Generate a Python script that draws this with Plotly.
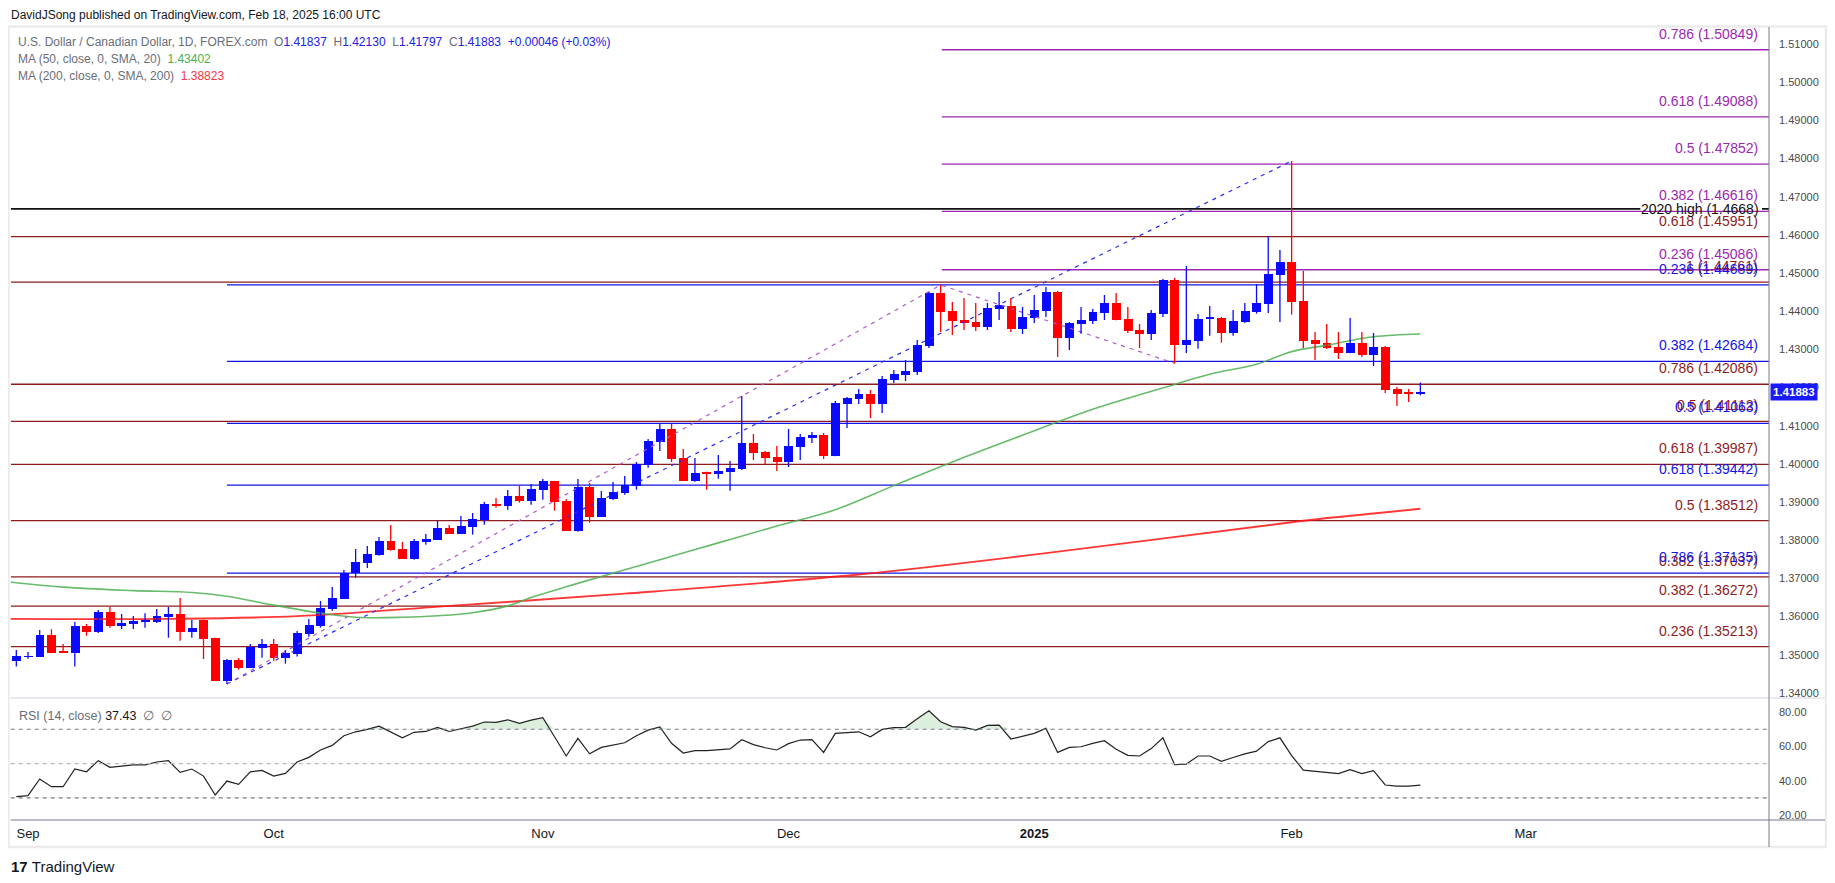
import numpy as np
import pandas as pd
import plotly.graph_objects as go

# USD/CAD daily bars (FOREX.com), 30 Aug 2024 - 18 Feb 2025
dates = pd.bdate_range("2024-08-30", "2025-02-18")
dates = dates[~dates.isin(pd.to_datetime(["2024-12-25", "2025-01-01"]))]
future = pd.bdate_range("2025-02-19", "2025-03-31")

opens = [
    1.34845, 1.34940, 1.34950, 1.35517, 1.35063, 1.35054, 1.35753, 1.35604, 1.36120, 1.35762,
    1.35814, 1.35870, 1.35866, 1.35997, 1.36067, 1.35604, 1.35919, 1.35439, 1.34321, 1.34862,
    1.34661, 1.35185, 1.35281, 1.34923, 1.35028, 1.35552, 1.35762, 1.36206, 1.36468, 1.37132,
    1.37412, 1.37621, 1.37979, 1.37769, 1.37508, 1.37962, 1.38014, 1.38320, 1.38172, 1.38355,
    1.38529, 1.38949, 1.38905, 1.39158, 1.39036, 1.39324, 1.39551, 1.39027, 1.38241, 1.39394,
    1.38617, 1.39088, 1.39245, 1.39429, 1.39979, 1.40573, 1.40913, 1.40154, 1.39560, 1.39768,
    1.39743, 1.39787, 1.39865, 1.40547, 1.40311, 1.40180, 1.40049, 1.40442, 1.40678, 1.40756,
    1.40206, 1.41568, 1.41699, 1.41830, 1.41568, 1.42197, 1.42328, 1.42407, 1.43088, 1.44476,
    1.44005, 1.43769, 1.43717, 1.43586, 1.44057, 1.44136, 1.43533, 1.43822, 1.44005, 1.44503,
    1.43298, 1.43664, 1.43743, 1.43953, 1.44215, 1.43795, 1.43507, 1.43402, 1.43926, 1.44817,
    1.43114, 1.43228, 1.43808, 1.43822, 1.43437, 1.43717, 1.43979, 1.44188, 1.44948, 1.45289,
    1.44267, 1.43245, 1.43167, 1.43062, 1.42905, 1.43167, 1.42852, 1.43062, 1.41961, 1.41850,
    1.41837,
]
highs = [
    1.35124, 1.35072, 1.35648, 1.35666, 1.35281, 1.35858, 1.35805, 1.36172, 1.36251, 1.36067,
    1.36015, 1.36085, 1.36198, 1.36251, 1.36487, 1.35910, 1.35925, 1.35445, 1.34888, 1.34915,
    1.35281, 1.35412, 1.35412, 1.35124, 1.35622, 1.35936, 1.36408, 1.36774, 1.37219, 1.37769,
    1.37848, 1.38084, 1.38399, 1.37953, 1.38032, 1.38163, 1.38503, 1.38399, 1.38634, 1.38713,
    1.39001, 1.39106, 1.39315, 1.39420, 1.39473, 1.39604, 1.39555, 1.39080, 1.39604, 1.39499,
    1.39289, 1.39525, 1.39682, 1.40049, 1.40651, 1.41053, 1.41053, 1.40389, 1.40154, 1.39796,
    1.40232, 1.40075, 1.41778, 1.40782, 1.40337, 1.40468, 1.40913, 1.40782, 1.40835, 1.40809,
    1.41647, 1.41752, 1.41961, 1.41935, 1.42302, 1.42459, 1.42721, 1.43245, 1.44503, 1.44686,
    1.44241, 1.44346, 1.44215, 1.44215, 1.44503, 1.44346, 1.44110, 1.44424, 1.44634, 1.44529,
    1.43717, 1.44110, 1.44057, 1.44424, 1.44477, 1.44110, 1.43664, 1.44031, 1.44843, 1.44870,
    1.45184, 1.43926, 1.44136, 1.43848, 1.44031, 1.44215, 1.44712, 1.45970, 1.45603, 1.47935,
    1.45053, 1.43455, 1.43664, 1.43455, 1.43822, 1.43455, 1.43429, 1.43088, 1.42014, 1.41961,
    1.42130,
]
lows = [
    1.34688, 1.34897, 1.34945, 1.35037, 1.35050, 1.34688, 1.35500, 1.35570, 1.35709, 1.35674,
    1.35674, 1.35709, 1.35832, 1.35447, 1.35369, 1.35447, 1.34888, 1.34315, 1.34233, 1.34609,
    1.34655, 1.34923, 1.34845, 1.34766, 1.34950, 1.35473, 1.35709, 1.36154, 1.36460, 1.37019,
    1.37272, 1.37595, 1.37726, 1.37510, 1.37490, 1.37883, 1.38010, 1.38165, 1.38165, 1.38145,
    1.38407, 1.38853, 1.38800, 1.38984, 1.38931, 1.39062, 1.38774, 1.38245, 1.38224, 1.38460,
    1.38610, 1.39053, 1.39193, 1.39324, 1.39900, 1.40337, 1.40049, 1.39555, 1.39534, 1.39324,
    1.39612, 1.39298, 1.39839, 1.40101, 1.39996, 1.39813, 1.39918, 1.40101, 1.40547, 1.40127,
    1.40200, 1.40940, 1.41568, 1.41202, 1.41333, 1.42119, 1.42171, 1.42328, 1.43036, 1.43455,
    1.43376, 1.43507, 1.43481, 1.43507, 1.43769, 1.43455, 1.43402, 1.43691, 1.43848, 1.42800,
    1.42983, 1.43411, 1.43664, 1.43769, 1.43765, 1.43429, 1.43036, 1.43245, 1.43848, 1.42634,
    1.42905, 1.43018, 1.43359, 1.43175, 1.43359, 1.43691, 1.43935, 1.43953, 1.43717, 1.43909,
    1.43036, 1.42721, 1.43009, 1.42747, 1.42900, 1.42800, 1.42564, 1.41857, 1.41516, 1.41621,
    1.41797,
]
closes = [
    1.34967, 1.34950, 1.35517, 1.35054, 1.35054, 1.35753, 1.35604, 1.36120, 1.35762, 1.35832,
    1.35884, 1.35880, 1.36015, 1.36067, 1.35604, 1.35701, 1.35421, 1.34321, 1.34862, 1.34661,
    1.35212, 1.35290, 1.34923, 1.35046, 1.35570, 1.35779, 1.36225, 1.36495, 1.37132, 1.37429,
    1.37639, 1.37979, 1.37752, 1.37516, 1.37979, 1.38032, 1.38320, 1.38172, 1.38372, 1.38556,
    1.38949, 1.38905, 1.39158, 1.39036, 1.39342, 1.39551, 1.39010, 1.38250, 1.39394, 1.38617,
    1.39106, 1.39263, 1.39446, 1.39996, 1.40599, 1.40913, 1.40127, 1.39560, 1.39761, 1.39755,
    1.39813, 1.39892, 1.40547, 1.40293, 1.40154, 1.40049, 1.40468, 1.40704, 1.40756, 1.40206,
    1.41595, 1.41726, 1.41830, 1.41568, 1.42223, 1.42354, 1.42433, 1.43114, 1.44476, 1.43979,
    1.43743, 1.43691, 1.43586, 1.44084, 1.44162, 1.43533, 1.43848, 1.44031, 1.44503, 1.43298,
    1.43691, 1.43769, 1.43979, 1.44215, 1.43769, 1.43481, 1.43402, 1.43953, 1.44817, 1.43114,
    1.43245, 1.43795, 1.43818, 1.43437, 1.43743, 1.44005, 1.44215, 1.44974, 1.45289, 1.44241,
    1.43219, 1.43140, 1.43036, 1.42905, 1.43167, 1.42852, 1.43062, 1.41935, 1.41839, 1.41837,
    1.41883,
]

# RSI(14) per bar
rsi = [
    30.7, 31.3, 41.0, 36.5, 36.5, 46.8, 45.2, 51.7, 47.8, 48.6,
    49.2, 49.2, 50.9, 51.7, 44.9, 46.8, 42.7, 31.7, 39.8, 37.9,
    45.2, 46.0, 42.7, 44.3, 50.9, 53.6, 57.9, 60.6, 66.2, 68.5,
    69.9, 71.8, 68.5, 65.0, 68.2, 68.7, 71.1, 68.7, 70.3, 71.8,
    74.2, 74.0, 75.5, 73.4, 75.3, 76.7, 65.6, 54.4, 64.7, 55.7,
    59.4, 60.6, 62.1, 66.2, 69.5, 71.3, 61.8, 56.1, 57.5, 57.5,
    57.9, 58.5, 63.9, 61.0, 59.2, 57.9, 61.6, 63.7, 63.9, 56.5,
    67.6, 68.2, 68.5, 65.6, 69.9, 70.9, 71.1, 76.1, 80.8, 74.4,
    71.5, 71.1, 69.5, 72.2, 72.4, 64.3, 66.0, 67.6, 70.5, 56.5,
    59.4, 59.8, 61.8, 63.3, 58.3, 54.8, 54.4, 58.7, 65.0, 49.3,
    49.7, 54.4, 54.4, 51.3, 53.5, 55.6, 57.2, 62.8, 65.0, 54.6,
    46.2, 45.6, 45.1, 44.1, 46.4, 44.1, 45.9, 37.5, 36.8, 36.8,
    37.43,
]

# moving averages, sampled along the curves (bar index, value)
ma50_idx = [-1, 4, 10, 15, 18, 22, 26, 29, 33, 36, 39, 42, 44, 47, 50, 55, 60, 65,
            70, 75, 80, 86, 92, 99, 102, 106, 109, 112, 116, 120]
ma50_val = [1.3692, 1.3677, 1.3668, 1.3663, 1.3653, 1.3630, 1.3609, 1.3598, 1.3598,
            1.3602, 1.3610, 1.3628, 1.3650, 1.3678, 1.3705, 1.3749, 1.3793, 1.3837,
            1.3880, 1.3943, 1.4005, 1.4075, 1.4143, 1.4208, 1.4235, 1.4261, 1.4294,
            1.4311, 1.4333, 1.43402]
ma200_idx = [-1, 13, 24, 38, 52, 72, 88, 110, 116, 120]
ma200_val = [1.3594, 1.3594, 1.3601, 1.3630, 1.3660, 1.3710, 1.3766, 1.3851, 1.3870, 1.38823]

# fibonacci levels
red_levels = [1.45951, 1.44761, 1.42086, 1.41112, 1.39987, 1.38512, 1.37037, 1.36272, 1.35213]
red_ratios = ["0.618", "1", "0.786", "0.5", "0.618", "0.5", "0.382", "0.382", "0.236"]
blue_levels = [1.44689, 1.42684, 1.41063, 1.39442, 1.37135]
blue_ratios = ["0.236", "0.382", "0.5", "0.618", "0.786"]
purple_levels = [1.50849, 1.49088, 1.47852, 1.46616, 1.45086]
purple_ratios = ["0.786", "0.618", "0.5", "0.382", "0.236"]
high_2020 = 1.4668

# anchor bars of the drawings
swing_low, swing_high, dec_high, jan_low = 18, 109, 79, 99

price_ticks = [1.34, 1.35, 1.36, 1.37, 1.38, 1.39, 1.40, 1.41, 1.42, 1.43,
               1.44, 1.45, 1.46, 1.47, 1.48, 1.49, 1.50, 1.51]
rsi_ticks = [20, 40, 60, 80]

# ---- layout geometry, in pixels of the 1835x883 page ----
# the html body has an 8px margin, so the figure is placed at (8, 8)
OFF = 8
W, H = 1835 - 2 * OFF, 883 - 2 * OFF
L, R, T, MB, RB = 10.7, 1769, 27, 698, 820
X0, X1 = -0.48, 149.8


def px(v):
    return (v - OFF) / W


def py(v):
    return 1 - (v - OFF) / H


BLUE = "#0a0aff"
RED = "#ff0000"
FIB_RED = "#8e1c1c"
FIB_BLUE = "#1414e6"
PURPLE = "#9c27b0"
GREY = "#6a6d78"
FONT = "Liberation Sans"
NARROW = "Liberation Sans Narrow, Liberation Sans"

n = len(closes)
idx = list(range(n))
up = [c >= o for o, c in zip(opens, closes)]

fig = go.Figure()

# moving averages
fig.add_trace(go.Scatter(x=ma200_idx, y=ma200_val, mode="lines",
                         line=dict(color="rgba(255,20,20,0.85)", width=1.9, shape="spline"),
                         hoverinfo="skip", xaxis="x", yaxis="y"))
fig.add_trace(go.Scatter(x=ma50_idx, y=ma50_val, mode="lines",
                         line=dict(color="rgba(76,175,80,0.85)", width=1.6, shape="spline"),
                         hoverinfo="skip", xaxis="x", yaxis="y"))

# dashed drawings
fig.add_trace(go.Scatter(x=[swing_low, swing_high], y=[lows[swing_low], highs[swing_high]], mode="lines",
                         line=dict(color="#2a2aff", width=1.2, dash="4px,5px"), hoverinfo="skip"))
fig.add_trace(go.Scatter(x=[swing_low, dec_high, jan_low],
                         y=[lows[swing_low], highs[dec_high], lows[jan_low]], mode="lines",
                         line=dict(color="#b05cc8", width=1.2, dash="4px,5px"), hoverinfo="skip"))

# candle wicks
for flag, col in [(True, BLUE), (False, RED)]:
    wx, wy = [], []
    for i in idx:
        if up[i] == flag:
            wx += [i, i, None]
            wy += [lows[i], highs[i], None]
    fig.add_trace(go.Scatter(x=wx, y=wy, mode="lines", line=dict(color=col, width=1.3), hoverinfo="skip"))

# candle bodies
fig.add_trace(go.Bar(
    x=idx,
    base=[min(o, c) for o, c in zip(opens, closes)],
    y=[max(abs(c - o), 0.00026) for o, c in zip(opens, closes)],
    width=0.76,
    marker=dict(color=[BLUE if u else RED for u in up], line=dict(width=0)),
    hoverinfo="skip",
))

# RSI with overbought fill
fig.add_trace(go.Scatter(x=idx, y=[70] * n, mode="lines", line=dict(width=0), hoverinfo="skip",
                         xaxis="x2", yaxis="y2"))
fig.add_trace(go.Scatter(x=idx, y=list(np.maximum(rsi, 70)), mode="lines", line=dict(width=0), fill="tonexty",
                         fillcolor="rgba(76,175,80,0.20)", hoverinfo="skip", xaxis="x2", yaxis="y2"))
fig.add_trace(go.Scatter(x=idx, y=rsi, mode="lines", line=dict(color="#222222", width=1.2), hoverinfo="skip",
                         xaxis="x2", yaxis="y2"))

# month ticks
all_days = list(dates) + list(future)
month_pos, month_txt = [], []
for i, d in enumerate(all_days):
    if i > 0 and d.month != all_days[i - 1].month:
        month_pos.append(i)
        month_txt.append("<b>%d</b>" % d.year if d.month == 1 else d.strftime("%b"))

shapes = []
annotations = []


def hline(y, x0, x1, color, width=1.3):
    shapes.append(dict(type="line", xref="x", yref="y", x0=x0, x1=x1, y0=y, y1=y,
                       line=dict(color=color, width=width), layer="below"))


def fib_label(text, y, color, shift=6):
    annotations.append(dict(text=text, xref="paper", yref="y", x=px(1760), y=y, xanchor="right",
                            yanchor="bottom", yshift=shift, showarrow=False,
                            font=dict(family=FONT, size=14, color=color)))


for lev, r in zip(red_levels, red_ratios):
    hline(lev, X0, X1, FIB_RED)
    fib_label("%s (%.5f)" % (r, lev), lev, FIB_RED)
for lev, r in zip(blue_levels, blue_ratios):
    hline(lev, swing_low, X1, FIB_BLUE)
    fib_label("%s (%.5f)" % (r, lev), lev, FIB_BLUE)
for lev, r in zip(purple_levels, purple_ratios):
    hline(lev, dec_high + 0.1, X1, PURPLE)
    fib_label("%s (%.5f)" % (r, lev), lev, PURPLE)

hline(high_2020, X0, 138.8, "#111111", 1.6)
hline(high_2020, 149.2, X1, "#111111", 1.6)
annotations.append(dict(text="2020 high (%.4f)" % high_2020, xref="paper", yref="y", x=px(1761), y=high_2020,
                        xanchor="right", yanchor="middle", showarrow=False,
                        font=dict(family=FONT, size=14, color="#111111")))

# RSI levels
for lev, col in [(70, "#787b86"), (50, "#b2b5be"), (30, "#787b86")]:
    shapes.append(dict(type="line", xref="x2 domain", yref="y2", x0=0, x1=1, y0=lev, y1=lev,
                       line=dict(color=col, width=1.2, dash="4px,4px")))

# frame, pane separator, axis lines
shapes += [
    dict(type="rect", xref="paper", yref="paper", x0=px(8.5), x1=px(1826), y0=py(847), y1=py(26.5),
         line=dict(color="#ebebeb", width=2.5)),
    dict(type="line", xref="paper", yref="paper", x0=px(L), x1=px(1825), y0=py(MB), y1=py(MB),
         line=dict(color="#e0e3eb", width=1.5)),
    dict(type="line", xref="paper", yref="paper", x0=px(L), x1=px(1825), y0=py(RB), y1=py(RB),
         line=dict(color="#787b86", width=1)),
    dict(type="line", xref="paper", yref="paper", x0=px(R), x1=px(R), y0=py(847), y1=py(T),
         line=dict(color="#787b86", width=1)),
]

# header and legends
sp = "\u00a0"


def val(v, c):
    return "<span style='color:%s'>%s</span>" % (c, v)


ohlc_blue = "#2020e8"
chg = closes[-1] - closes[-2]
legend1 = ("U.S. Dollar / Canadian Dollar, 1D, FOREX.com" + sp * 2 +
           "O" + val("%.5f" % opens[-1], ohlc_blue) + sp * 2 +
           "H" + val("%.5f" % highs[-1], ohlc_blue) + sp * 2 +
           "L" + val("%.5f" % lows[-1], ohlc_blue) + sp * 2 +
           "C" + val("%.5f" % closes[-1], ohlc_blue) + sp * 2 +
           val("+%.5f (+%.2f%%)" % (chg, chg / closes[-2] * 100), ohlc_blue))
legend2 = "MA (50, close, 0, SMA, 20)" + sp * 2 + val("%.5f" % ma50_val[-1], "#4caf50")
legend3 = "MA (200, close, 0, SMA, 200)" + sp * 2 + val("%.5f" % ma200_val[-1], "#f23645")
rsi_label = ("RSI (14, close)" + sp + val("%.2f" % rsi[-1], "#131722") + sp * 2 +
             "\u2205" + sp * 2 + "\u2205")

for text, x, y, fnt, size, col in [
    ("DavidJSong published on TradingView.com, Feb 18, 2025 16:00 UTC", 9, 15, NARROW, 12, "#131722"),
    (legend1, 16, 42, NARROW, 12, GREY),
    (legend2, 16, 59, NARROW, 12, GREY),
    (legend3, 16, 76, NARROW, 12, GREY),
    (rsi_label, 17, 716, NARROW, 12.5, GREY),
    ("<b>17</b>" + sp + "TradingView", 9, 866, NARROW, 15, "#131722"),
]:
    annotations.append(dict(text=text, xref="paper", yref="paper", x=px(x), y=py(y), xanchor="left",
                            yanchor="middle", showarrow=False, font=dict(family=fnt, size=size, color=col)))

# last price tag
annotations.append(dict(text="<b>%.5f</b>" % closes[-1], xref="paper", yref="y", x=px(1770), y=closes[-1],
                        xanchor="left", yanchor="middle", showarrow=False, bgcolor="#1a1aff", borderpad=2,
                        font=dict(family=FONT, size=11.5, color="white")))

fig.update_layout(
    width=W, height=H,
    margin=dict(l=0, r=0, t=0, b=0),
    paper_bgcolor="white", plot_bgcolor="white",
    showlegend=False,
    bargap=0,
    xaxis=dict(domain=[px(L), px(R)], range=[X0, X1], anchor="y", showticklabels=False,
               showgrid=False, zeroline=False, showline=False, ticks=""),
    xaxis2=dict(domain=[px(L), px(R)], range=[X0, X1], anchor="y2", matches="x",
                tickvals=month_pos, ticktext=month_txt, ticks="", showgrid=False, zeroline=False,
                showline=False, ticklabelstandoff=4,
                tickfont=dict(family=NARROW, size=13, color="#131722")),
    yaxis=dict(domain=[py(MB), py(T)], range=[1.33866, 1.51445], side="right", anchor="x",
               tickvals=price_ticks, ticktext=["%.5f" % v for v in price_ticks], ticks="",
               showgrid=False, zeroline=False, showline=False, ticklabelstandoff=9,
               tickfont=dict(family=FONT, size=11, color="#4a4a4a")),
    yaxis2=dict(domain=[py(RB), py(MB)], range=[17.1, 88.2], side="right", anchor="x2",
                tickvals=rsi_ticks, ticktext=["%.2f" % v for v in rsi_ticks], ticks="",
                showgrid=False, zeroline=False, showline=False, ticklabelstandoff=9,
                tickfont=dict(family=FONT, size=11, color="#4a4a4a")),
    shapes=shapes,
    annotations=annotations,
)

fig.write_html("out.html")
